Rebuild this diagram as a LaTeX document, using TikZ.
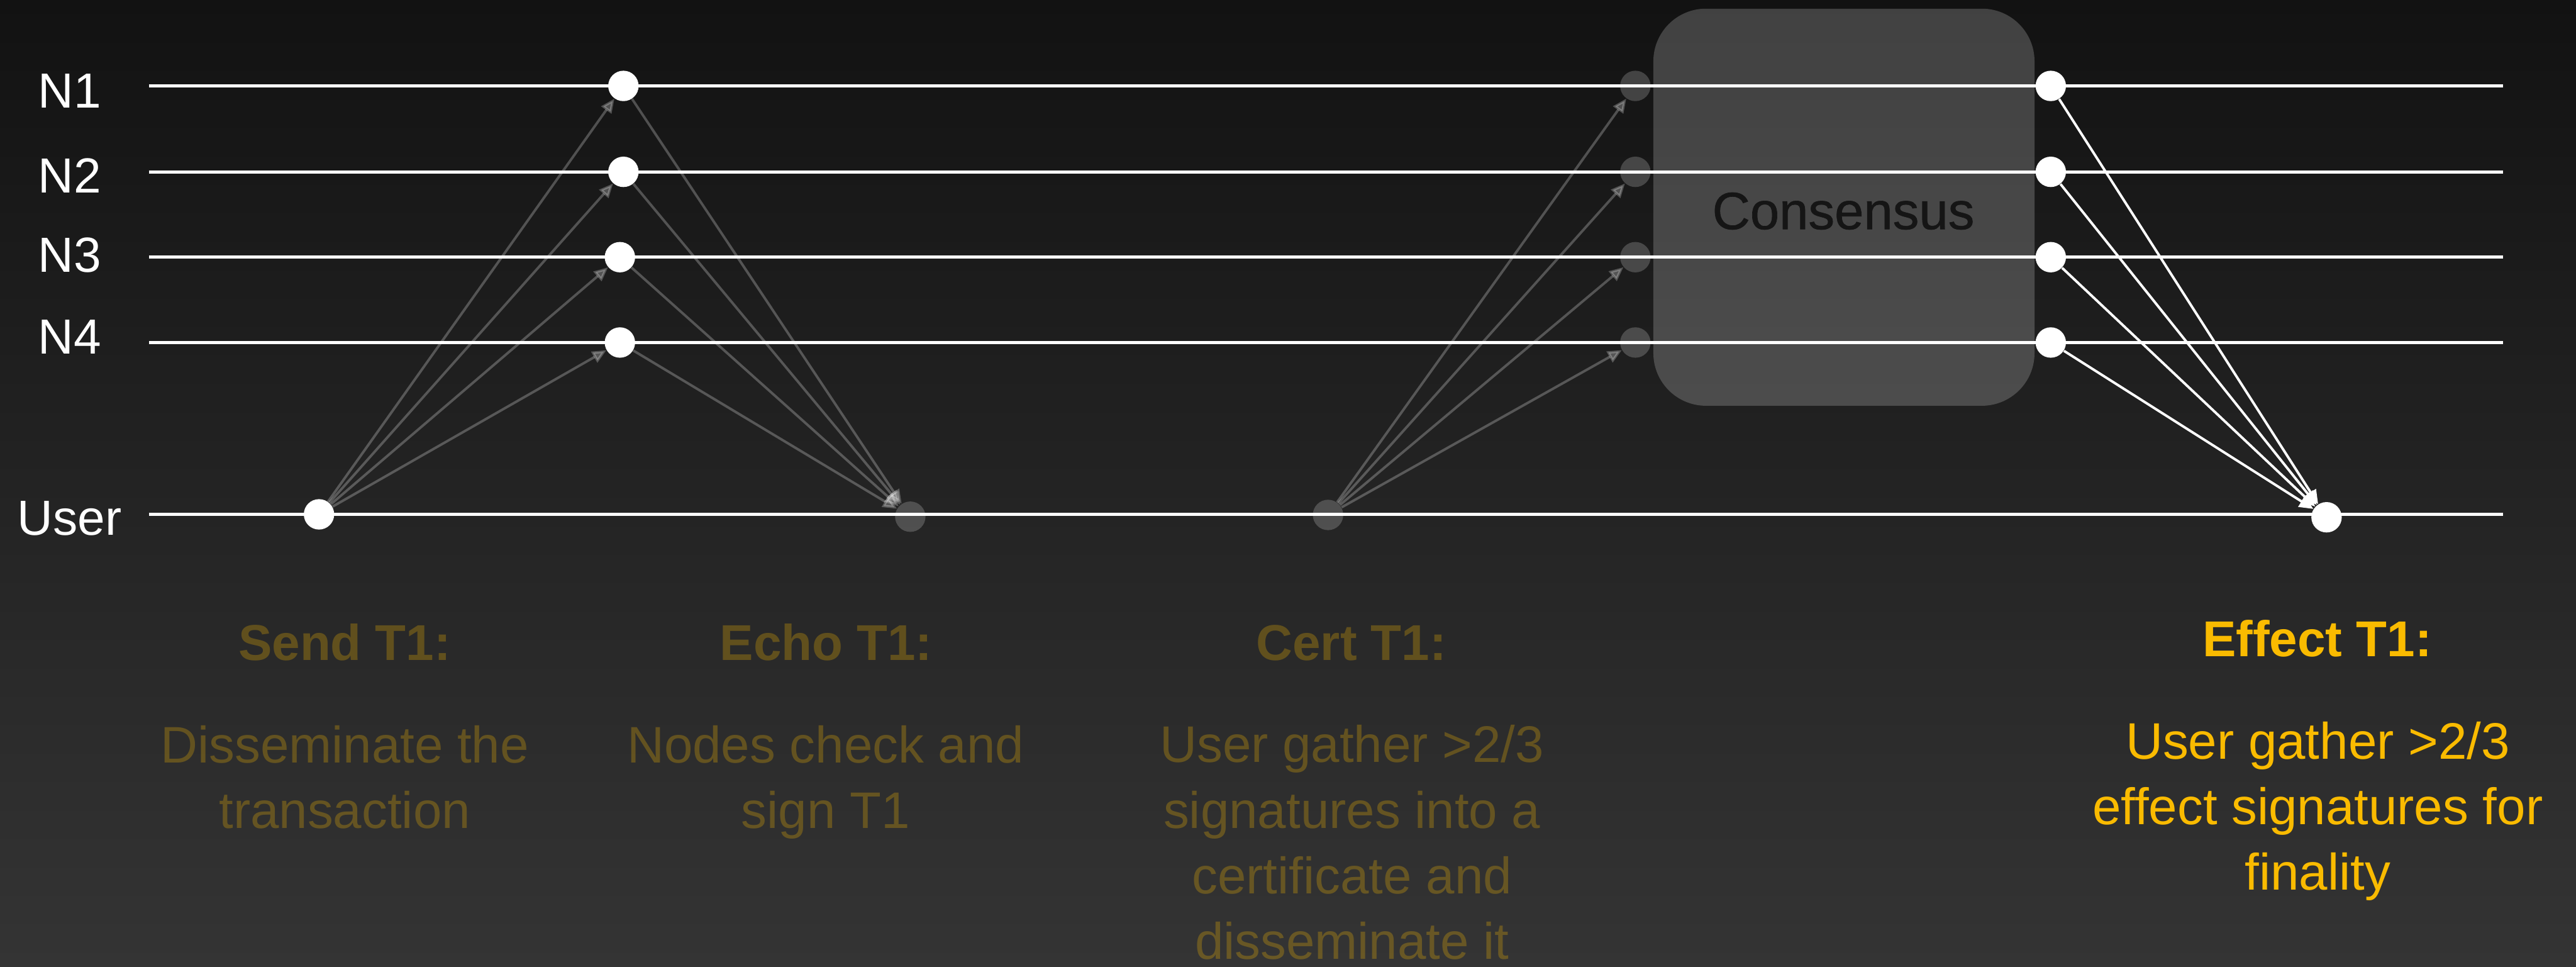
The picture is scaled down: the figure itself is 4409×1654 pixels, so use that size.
\documentclass[tikz,border=0pt]{standalone}
\usepackage{fontspec}
\setmainfont{Liberation Sans}
\newfontfamily\consfont[FakeBold=0.8]{Liberation Sans}
\usetikzlibrary{arrows.meta}
\definecolor{bgtop}{RGB}{18,18,18}
\definecolor{bgbot}{RGB}{52,52,52}
\definecolor{gold}{RGB}{250,187,0}
\definecolor{constext}{RGB}{21,21,21}
\begin{document}
\begin{tikzpicture}[x=0.01cm,y=-0.01cm,
  dotw/.style={circle,fill=white,minimum size=0.52cm,inner sep=0pt},
  dotg/.style={circle,fill=white,fill opacity=0.2,minimum size=0.52cm,inner sep=0pt},
  timeline/.style={draw=white,line width=1.5pt},
  garr/.style={draw=white,opacity=0.25,line width=1.2pt,-{Triangle[length=2.4mm,width=2.1mm]}},
  warr/.style={draw=white,line width=1.2pt,-{Triangle[length=2.4mm,width=2.1mm]}},
  lab/.style={text=white,font=\fontsize{24}{28}\selectfont,anchor=base,inner sep=0pt},
  ttl/.style={font=\fontsize{24.5}{29}\selectfont\bfseries,anchor=base,inner sep=0pt},
  dsc/.style={font=\fontsize{25}{31.9}\selectfont,align=center,anchor=base,inner sep=0pt},
  dim/.style={text=gold,text opacity=0.27},
  bright/.style={text=gold},
]
\useasboundingbox (0,0) rectangle (4409,1654);
\shade[top color=bgtop,bottom color=bgbot] (0,0) rectangle (4409,1654);

% consensus box
\node[fill=white,fill opacity=0.2,rounded corners=0.9cm,minimum width=6.52cm,minimum height=6.79cm,inner sep=0pt] (box) at (3156,354.5) {};
\node[text=constext,font=\consfont\fontsize{25.5}{30}\selectfont,anchor=base,inner sep=0pt] (ctext) at (3155,392) {Consensus};

% timelines
\coordinate (a1) at (255,147);  \coordinate (b1) at (4284,147);
\coordinate (a2) at (255,294);  \coordinate (b2) at (4284,294);
\coordinate (a3) at (255,440);  \coordinate (b3) at (4284,440);
\coordinate (a4) at (255,586);  \coordinate (b4) at (4284,586);
\coordinate (au) at (255,880);  \coordinate (bu) at (4284,880);
\foreach \i in {1,2,3,4,u} \draw[timeline] (a\i) -- (b\i);

% labels
\node[lab] (ln1) at (119,185) {N1};
\node[lab] (ln2) at (119,330) {N2};
\node[lab] (ln3) at (119,466) {N3};
\node[lab] (ln4) at (119,605) {N4};
\node[lab] (lnu) at (119,915) {User};

% dots
\node[dotw] (s) at (546,880) {};
\node[dotw] (e1) at (1067,147) {};
\node[dotw] (e2) at (1067,294) {};
\node[dotw] (e3) at (1061,440) {};
\node[dotw] (e4) at (1061,586) {};
\node[dotg] (eu) at (1558,884) {};
\node[dotg] (cu) at (2273,881) {};
\node[dotg] (c1) at (2799,147) {};
\node[dotg] (c2) at (2799,294) {};
\node[dotg] (c3) at (2799,440) {};
\node[dotg] (c4) at (2799,586) {};
\node[dotw] (f1) at (3510,147) {};
\node[dotw] (f2) at (3510,294) {};
\node[dotw] (f3) at (3510,440) {};
\node[dotw] (f4) at (3510,586) {};
\node[dotw] (fu) at (3982,885) {};

% arrows
\foreach \i in {1,2,3,4} {
  \draw[garr] (s) -- (e\i);
  \draw[garr] (e\i) -- (eu);
  \draw[garr] (cu) -- (c\i);
  \draw[warr] (f\i) -- (fu);
}

% titles
\node[ttl,dim] (t1) at (590,1130) {Send T1:};
\node[ttl,dim] (t2) at (1414,1130) {Echo T1:};
\node[ttl,dim] (t3) at (2313,1130) {Cert T1:};
\node[ttl,bright] (t4) at (3966,1123) {Effect T1:};

% descriptions (base anchor = last line baseline)
\node[dsc,dim] (d1) at (590,1417) {Disseminate the\\transaction};
\node[dsc,dim] (d2) at (1413,1417) {Nodes check and\\sign T1};
\node[dsc,dim] (d3) at (2314,1641) {User gather >2/3\\signatures into a\\certificate and\\disseminate it};
\node[dsc,bright] (d4) at (3967,1523) {User gather >2/3\\effect signatures for\\finality};
\end{tikzpicture}
\end{document}
